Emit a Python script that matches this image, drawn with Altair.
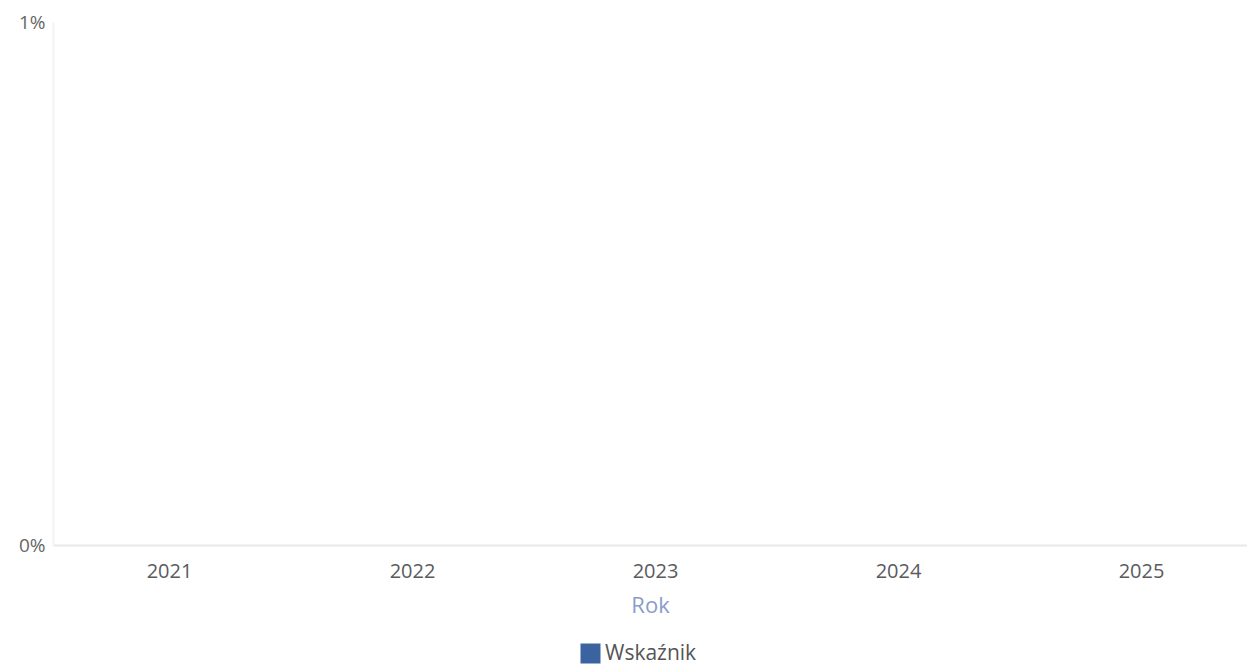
import altair as alt
import pandas as pd

years = ["2021", "2022", "2023", "2024", "2025"]
values = [0, 0, 0, 0, 0]
series = ["Wskaźnik"] * 5

df = pd.DataFrame({"Rok": years, "value": values, "series": series})

chart = alt.Chart(df).mark_bar().encode(
    x=alt.X("Rok:N", title="Rok", sort=years,
            scale=alt.Scale(paddingInner=0.2, paddingOuter=0.0568, align=0.7),
            axis=alt.Axis(labelAngle=0, labelFont="Open Sans", labelFontSize=20,
                          labelColor="#5a5a60", labelPadding=16, ticks=False,
                          domainColor="#e8e8e8", domainWidth=2,
                          titleFont="Open Sans", titleFontSize=22, titleFontWeight="normal",
                          titleColor="#8a9ccc", titlePadding=14)),
    y=alt.Y("value:Q", title=None,
            scale=alt.Scale(domain=[0, 0.01]),
            axis=alt.Axis(values=[0, 0.01], format=".0%", grid=False, ticks=False,
                          labelFont="Open Sans", labelFontSize=19, labelColor="#666666",
                          labelPadding=8, domainColor="#f2f2f2", domainWidth=2)),
    color=alt.Color("series:N", title=None,
                    scale=alt.Scale(range=["#3a63a0"]),
                    legend=alt.Legend(orient="none", legendX=527, legendY=621,
                                      symbolType="square", symbolSize=400, padding=0,
                                      labelFont="Open Sans", labelFontSize=21,
                                      labelColor="#555555", symbolStrokeWidth=0)),
).properties(
    width=1194, height=523,
    padding={"left": 45, "top": 14, "right": 0, "bottom": 128},
    autosize=alt.AutoSizeParams(type="none"),
).configure_view(stroke=None)

chart.save("out.html", embed_options={"renderer": "svg", "actions": False})
